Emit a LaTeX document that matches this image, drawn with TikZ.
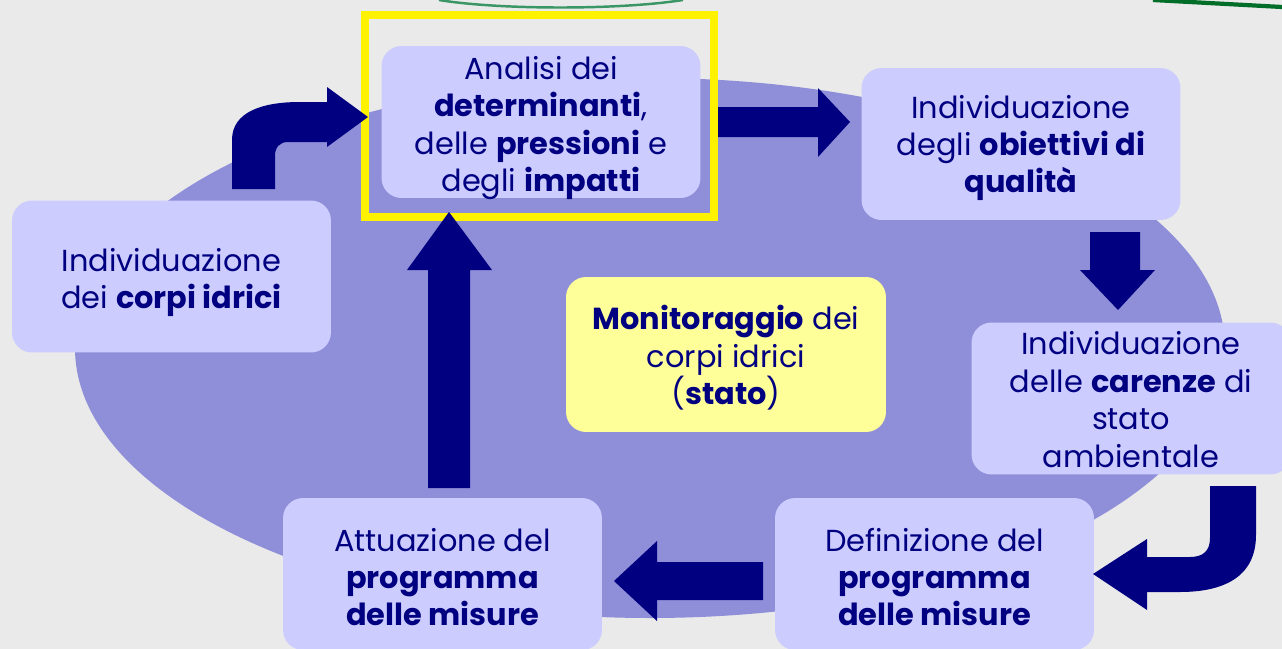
\documentclass[tikz,border=0pt]{standalone}
\usepackage{fontspec}
\setmainfont{Poppins}
\usepackage{xcolor}
\usepackage{tikz}

\definecolor{navy}{RGB}{0,0,128}
\definecolor{lilac}{RGB}{204,204,255}
\definecolor{oval}{RGB}{143,143,217}
\definecolor{paleyellow}{RGB}{255,255,153}
\definecolor{slidegray}{RGB}{234,234,234}
\definecolor{leafgreen}{RGB}{58,150,100}
\definecolor{darkleaf}{RGB}{0,110,40}

\tikzset{
  box/.style={shape=rectangle, rounded corners=0.4cm, fill=lilac,
    minimum width=6.38cm, minimum height=3.04cm, inner sep=0pt},
  monitor/.style={box, fill=paleyellow, minimum width=6.4cm, minimum height=3.1cm},
  steptext/.style={align=center, text=navy, inner sep=0pt,
    font=\fontsize{17.3}{21.3}\selectfont},
  blockarrow/.style={fill=navy}
}

\begin{document}
\begin{tikzpicture}[x=0.02cm,y=-0.02cm]
\useasboundingbox (0,0) rectangle (1282,649);
\clip (0,0) rectangle (1282,649);
\fill[slidegray] (0,0) rectangle (1282,649);
% bits of the slide header
\draw[leafgreen, line width=1.4pt] (439,0) .. controls (500,10) and (620,10) .. (683,0);
\draw[darkleaf, line width=2.4pt] (1153,0) -- (1282,7);
% the oval behind the cycle
\fill[oval] (650,348) ellipse [x radius=575, y radius=270];

\node[box] (analisi) at (541,122) {};
\node[box] (obiettivi) at (1021,144) {};
\node[box] (idrici) at (171.5,276.5) {};
\node[box] (carenze) at (1131,398.5) {};
\node[box] (definizione) at (934.5,574) {};
\node[box] (attuazione) at (442.5,574) {};
\node[monitor] (monitoraggio) at (726,354.5) {};

\node[steptext, yshift=-3.4pt] (analisi text) at (analisi) {Analisi dei\\\textbf{determinanti},\\delle \textbf{pressioni} e\\degli \textbf{impatti}};
\node[steptext, yshift=-2.3pt] (obiettivi text) at (obiettivi) {Individuazione\\degli \textbf{obiettivi di}\\\textbf{qualità}};
\node[steptext, yshift=-3.4pt] (idrici text) at (idrici) {Individuazione\\dei \textbf{corpi idrici}};
\node[steptext, yshift=-0.6pt] (carenze text) at (carenze) {Individuazione\\delle \textbf{carenze} di\\stato\\ambientale};
\node[steptext, yshift=-1.7pt] (definizione text) at (definizione) {Definizione del\\\textbf{programma}\\\textbf{delle misure}};
\node[steptext, yshift=-1.7pt] (attuazione text) at (attuazione) {Attuazione del\\\textbf{programma}\\\textbf{delle misure}};
\node[steptext, yshift=-2pt] (monitoraggio text) at (monitoraggio) {\textbf{Monitoraggio} dei\\corpi idrici\\(\textbf{stato})};

% yellow frame round the current step
\draw[yellow, line width=4pt] (365,15) rectangle (714,217);

% block arrows
\fill[blockarrow] (718,107) -- (818,107) -- (818,88) -- (850,122) -- (818,157) -- (818,137) -- (718,137) -- cycle;
\fill[blockarrow] (1090,232) -- (1140,232) -- (1140,270) -- (1155,270) -- (1118,310) -- (1080,270) -- (1090,270) -- cycle;
\fill[blockarrow] (1210,486) -- (1256,486) -- (1256,535) .. controls (1256,578) and (1222,592) .. (1180,592)
  -- (1147,592) -- (1147,610) -- (1093,574) -- (1147,539) -- (1147,557) -- (1190,557)
  .. controls (1203,557) and (1210,551) .. (1210,538) -- cycle;
\fill[blockarrow] (763,562) -- (657,562) -- (657,541) -- (614,581) -- (657,621) -- (657,600) -- (763,600) -- cycle;
\fill[blockarrow] (428,488) -- (428,270) -- (407,270) -- (449,212) -- (492,270) -- (470,270) -- (470,488) -- cycle;
\fill[blockarrow] (232,189) -- (232,140) .. controls (232,112) and (262,102) .. (300,102) -- (327,102) -- (327,87)
  -- (368,117) -- (327,147) -- (327,142) -- (288,142) .. controls (280,142) and (275,147) .. (275,156) -- (275,189) -- cycle;
\end{tikzpicture}
\end{document}
